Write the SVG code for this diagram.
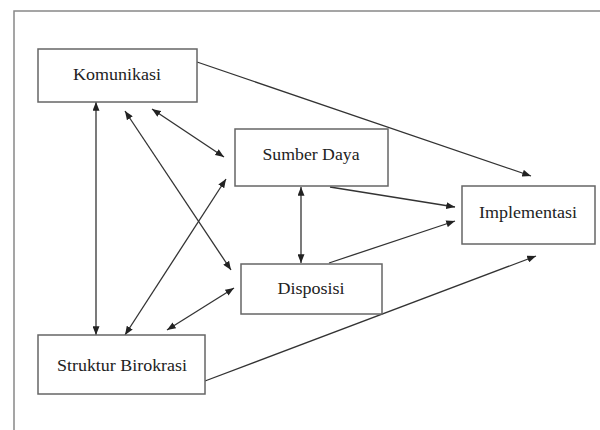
<svg xmlns="http://www.w3.org/2000/svg" width="600" height="430" viewBox="0 0 600 430">
<defs>
<marker id="ah" viewBox="0 0 10 8" refX="10" refY="4" markerWidth="9" markerHeight="7" markerUnits="userSpaceOnUse" orient="auto-start-reverse">
<path d="M0,0 L10,4 L0,8 z" fill="#222"/>
</marker>
<style>
.box{fill:#fff;stroke:#666;stroke-width:1.5}
.lbl{font-size:16px;fill:#222;text-anchor:middle}
.c{stroke:#333;stroke-width:1.3;fill:none}
.one{marker-end:url(#ah)}
.two{marker-start:url(#ah);marker-end:url(#ah)}
</style>
</defs>
<rect width="600" height="430" fill="#fff"/>
<path d="M14,430 V11 H600" fill="none" stroke="#888" stroke-width="1.5"/>
<g id="connectors">
<line class="c one" x1="197" y1="62" x2="531" y2="176"/>
<line class="c two" x1="96" y1="102" x2="96" y2="335"/>
<line class="c two" x1="152" y1="109" x2="224" y2="157"/>
<line class="c two" x1="125" y1="111" x2="231" y2="270"/>
<line class="c two" x1="226" y1="179" x2="125" y2="335"/>
<line class="c two" x1="167" y1="330" x2="234" y2="288"/>
<line class="c two" x1="301" y1="187" x2="301" y2="263"/>
<line class="c one" x1="330" y1="187" x2="455" y2="207"/>
<line class="c one" x1="329" y1="263" x2="455" y2="221"/>
<line class="c one" x1="205" y1="381" x2="536" y2="256"/>
</g>
<g id="komunikasi">
<rect class="box" x="38" y="49" width="159" height="53"/>
<text class="lbl" font-family="'Liberation Serif', 'DejaVu Serif', serif" x="117" y="80" textLength="88" lengthAdjust="spacingAndGlyphs">Komunikasi</text>
</g>
<g id="sumber-daya">
<rect class="box" x="235" y="129" width="153" height="57"/>
<text class="lbl" font-family="'Liberation Serif', 'DejaVu Serif', serif" x="311" y="160" textLength="97" lengthAdjust="spacingAndGlyphs">Sumber Daya</text>
</g>
<g id="implementasi">
<rect class="box" x="462" y="186" width="133" height="58"/>
<text class="lbl" font-family="'Liberation Serif', 'DejaVu Serif', serif" x="528" y="218" textLength="98" lengthAdjust="spacingAndGlyphs">Implementasi</text>
</g>
<g id="disposisi">
<rect class="box" x="241" y="264" width="141" height="50"/>
<text class="lbl" font-family="'Liberation Serif', 'DejaVu Serif', serif" x="311" y="294" textLength="67" lengthAdjust="spacingAndGlyphs">Disposisi</text>
</g>
<g id="struktur-birokrasi">
<rect class="box" x="38" y="335" width="167" height="59"/>
<text class="lbl" font-family="'Liberation Serif', 'DejaVu Serif', serif" x="122" y="371" textLength="130" lengthAdjust="spacingAndGlyphs">Struktur Birokrasi</text>
</g>
</svg>
